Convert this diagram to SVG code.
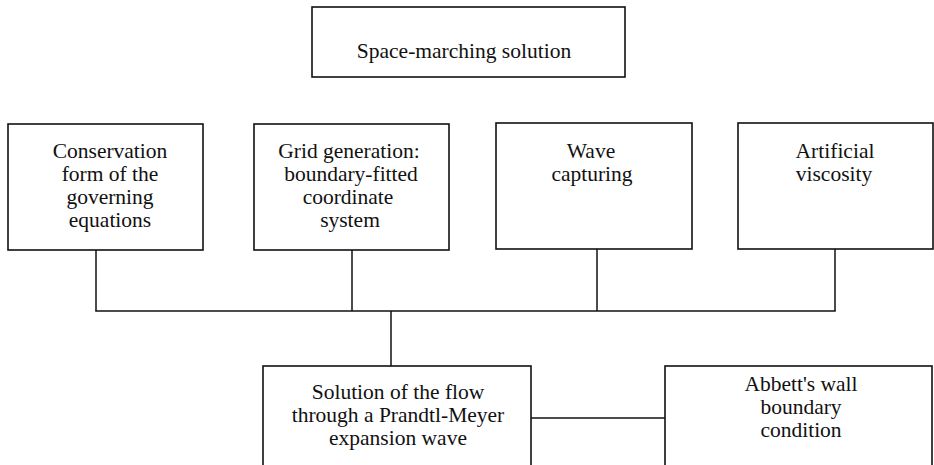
<svg xmlns="http://www.w3.org/2000/svg" width="934" height="465" viewBox="0 0 934 465">
  <style>
    .box { fill: #ffffff; stroke: #111111; stroke-width: 1.6; }
    .lbl { font-family: "Liberation Serif", "Times New Roman", serif; font-size: 21.5px; fill: #111111; text-anchor: middle; }
    .con { fill: none; stroke: #111111; stroke-width: 1.5; }
  </style>
  <rect x="0" y="0" width="934" height="465" fill="#ffffff"/>
  <g id="connectors">
    <line class="con" x1="96" y1="250" x2="96" y2="311"/>
    <line class="con" x1="352" y1="250" x2="352" y2="311"/>
    <line class="con" x1="597" y1="249" x2="597" y2="311"/>
    <line class="con" x1="835" y1="249" x2="835" y2="311"/>
    <line class="con" x1="95.25" y1="311" x2="835.75" y2="311"/>
    <line class="con" x1="391" y1="311" x2="391" y2="366"/>
    <line class="con" x1="531" y1="418" x2="665" y2="418"/>
  </g>
  <g id="node-space-marching">
    <rect class="box" x="312" y="7" width="313" height="70"/>
    <text class="lbl" x="464" y="58">Space-marching solution</text>
  </g>
  <g id="node-conservation">
    <rect class="box" x="8" y="124" width="195" height="126"/>
    <text class="lbl" x="110"><tspan x="110" y="158">Conservation</tspan><tspan x="110" y="181">form of the</tspan><tspan x="110" y="204">governing</tspan><tspan x="110" y="227">equations</tspan></text>
  </g>
  <g id="node-grid">
    <rect class="box" x="254" y="124" width="195" height="126"/>
    <text class="lbl" x="349"><tspan x="349" y="158">Grid generation:</tspan><tspan x="351" y="181">boundary-fitted</tspan><tspan x="348" y="204">coordinate</tspan><tspan x="350" y="227">system</tspan></text>
  </g>
  <g id="node-wave">
    <rect class="box" x="496" y="123" width="196" height="126"/>
    <text class="lbl" x="591"><tspan x="591" y="158">Wave</tspan><tspan x="592" y="181">capturing</tspan></text>
  </g>
  <g id="node-viscosity">
    <rect class="box" x="738" y="123" width="195" height="126"/>
    <text class="lbl" x="835"><tspan x="835" y="158">Artificial</tspan><tspan x="834" y="181">viscosity</tspan></text>
  </g>
  <g id="node-solution">
    <rect class="box" x="263" y="366" width="268" height="110"/>
    <text class="lbl" x="398"><tspan x="398" y="399">Solution of the flow</tspan><tspan x="398" y="422">through a Prandtl-Meyer</tspan><tspan x="398" y="445">expansion wave</tspan></text>
  </g>
  <g id="node-abbett">
    <rect class="box" x="665" y="366" width="267" height="110"/>
    <text class="lbl" x="801"><tspan x="801" y="391">Abbett's wall</tspan><tspan x="801" y="414">boundary</tspan><tspan x="801" y="437">condition</tspan></text>
  </g>
</svg>
